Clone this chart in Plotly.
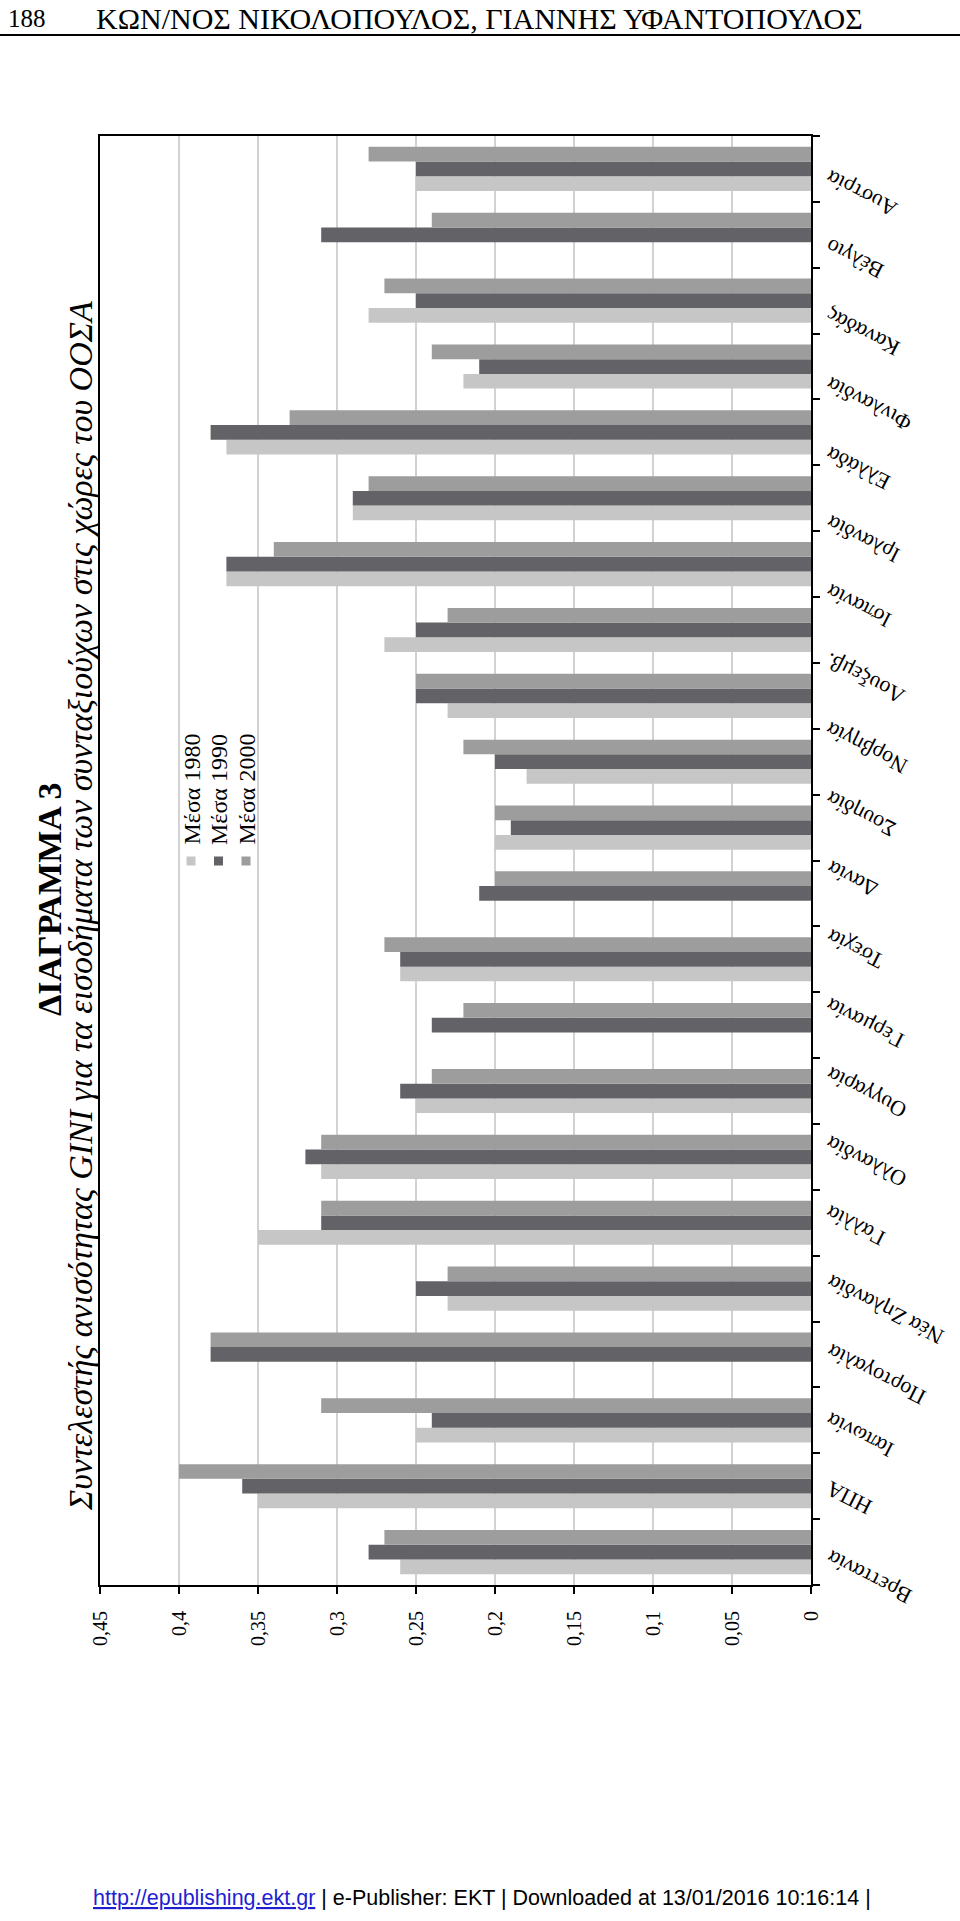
import plotly.graph_objects as go

# ---------------- data ----------------
# Country labels as printed on the page (bottom -> top of the rotated chart)
COUNTRY_LABELS = [
    "Βρεττανία", "ΗΠΑ", "Ιαπωνία", "Πορτογαλία", "Νέα Ζηλανδία", "Γαλλία",
    "Ολλανδία", "Ουγγαρία", "Γερμανία", "Τσεχία", "Δανία", "Σουηδία",
    "Νορβηγία", "Λουξεμβ.", "Ισπανία", "Ιρλανδία", "Ελλάδα", "Φινλανδία",
    "Καναδάς", "Βέλγιο", "Αυστρία",
]
# Bar groups as drawn in the scan (bottom -> top); the scan shows 22 groups
MEAN_1980 = [0.26, 0.35, 0.25, None, 0.23, 0.35, 0.31, 0.25, None, 0.26, None,
             0.20, 0.18, 0.23, 0.27, 0.37, 0.29, 0.37, 0.22, 0.28, None, 0.25]
MEAN_1990 = [0.28, 0.36, 0.24, 0.38, 0.25, 0.31, 0.32, 0.26, 0.24, 0.26, 0.21,
             0.19, 0.20, 0.25, 0.25, 0.37, 0.29, 0.38, 0.21, 0.25, 0.31, 0.25]
MEAN_2000 = [0.27, 0.40, 0.31, 0.38, 0.23, 0.31, 0.31, 0.24, 0.22, 0.27, 0.20,
             0.20, 0.22, 0.25, 0.23, 0.34, 0.28, 0.33, 0.24, 0.27, 0.24, 0.28]
SERIES_NAMES = ["Μέσα 1980", "Μέσα 1990", "Μέσα 2000"]
VALUE_TICKS = [0, 0.05, 0.1, 0.15, 0.2, 0.25, 0.3, 0.35, 0.4, 0.45]
VALUE_TICK_LABELS = ["0", "0,05", "0,1", "0,15", "0,2", "0,25", "0,3", "0,35", "0,4", "0,45"]

HEADER_PAGE = "188"
HEADER_TEXT = "ΚΩΝ/ΝΟΣ ΝΙΚΟΛΟΠΟΥΛΟΣ, ΓΙΑΝΝΗΣ ΥΦΑΝΤΟΠΟΥΛΟΣ"
TITLE = "ΔΙΑΓΡΑΜΜΑ 3"
SUBTITLE = "Συντελεστής ανισότητας GINI για τα εισοδήματα των συνταξιούχων στις χώρες του ΟΟΣΑ"
FOOTER_LINK = "http://epublishing.ekt.gr"
FOOTER_REST = " | e-Publisher: EKT | Downloaded at 13/01/2016 10:16:14 |"

# ---------------- styling / layout ----------------
COLORS = ["#c6c6c6", "#636367", "#9d9d9d"]
SERIF = "Liberation Serif"
SANS = "Liberation Sans"

W, H = 960, 1921
PL, PR, PT, PB = 100, 811, 136, 1585  # plot area in pixels


def px_x(x):
    return (x - PL) / (PR - PL)


def px_y(y):
    return (PB - y) / (PB - PT)


n_groups = len(MEAN_2000)
slots = list(range(n_groups))

fig = go.Figure()
for name, vals, col in zip(SERIES_NAMES, [MEAN_1980, MEAN_1990, MEAN_2000], COLORS):
    fig.add_trace(go.Bar(
        name=name, y=slots, x=vals, orientation="h",
        marker=dict(color=col, line=dict(width=0)),
        hoverinfo="skip",
    ))

annotations = []
# category labels (rotated, upside down as in the scanned page)
n_lab = len(COUNTRY_LABELS)
for i, lab in enumerate(COUNTRY_LABELS):
    annotations.append(dict(
        x=px_x(PR + 8), xref="paper", y=(i + 0.5) / n_lab, yref="paper",
        text=lab, textangle=-153, xanchor="left", yanchor="top", yshift=8,
        showarrow=False, font=dict(family=SERIF, size=22, color="black"),
    ))

# titles
annotations.append(dict(
    x=px_x(49), y=px_y(900), xref="paper", yref="paper", text="<b>" + TITLE + "</b>",
    textangle=-90, showarrow=False, xanchor="center", yanchor="middle",
    font=dict(family=SERIF, size=34, color="black"),
))
annotations.append(dict(
    x=px_x(81), y=px_y(906), xref="paper", yref="paper", text="<i>" + SUBTITLE + "</i>",
    textangle=-90, showarrow=False, xanchor="center", yanchor="middle",
    font=dict(family=SERIF, size=34, color="black"),
))

# legend (rotated)
shapes = []
for i, (name, col) in enumerate(zip(SERIES_NAMES, COLORS)):
    cx = 191 + 27.5 * i
    annotations.append(dict(
        x=px_x(cx), y=px_y(847), xref="paper", yref="paper", text=name,
        textangle=-90, showarrow=False, xanchor="center", yanchor="bottom",
        font=dict(family=SERIF, size=24, color="black"),
    ))
    shapes.append(dict(
        type="rect", xref="paper", yref="paper",
        x0=px_x(cx - 4.5), x1=px_x(cx + 4.5), y0=px_y(865.5), y1=px_y(856.5),
        fillcolor=col, line=dict(width=0),
    ))

# page header
annotations.append(dict(
    x=px_x(6), y=px_y(18), xref="paper", yref="paper", text=HEADER_PAGE,
    showarrow=False, xanchor="left", yanchor="middle",
    font=dict(family=SERIF, size=25, color="black"),
))
annotations.append(dict(
    x=px_x(94), y=px_y(18), xref="paper", yref="paper", text=HEADER_TEXT,
    showarrow=False, xanchor="left", yanchor="middle",
    font=dict(family=SERIF, size=30, color="black"),
))
shapes.append(dict(
    type="line", xref="paper", yref="paper",
    x0=px_x(0), x1=px_x(960), y0=px_y(35), y1=px_y(35),
    line=dict(color="black", width=2),
))

# footer
annotations.append(dict(
    x=px_x(482), y=px_y(1898), xref="paper", yref="paper",
    text='<span style="color:#1f1fd0"><u>' + FOOTER_LINK + '</u></span>' + FOOTER_REST,
    showarrow=False, xanchor="center", yanchor="middle",
    font=dict(family=SANS, size=21.5, color="black"),
))

fig.update_layout(
    width=W, height=H,
    margin=dict(l=PL, r=W - PR, t=PT, b=H - PB, pad=0),
    paper_bgcolor="white", plot_bgcolor="white",
    barmode="group", bargap=0.33, bargroupgap=0,
    showlegend=False,
    annotations=annotations, shapes=shapes,
    xaxis=dict(
        range=[0.45, 0], tickvals=VALUE_TICKS, ticktext=VALUE_TICK_LABELS,
        tickangle=-90, ticks="outside", ticklen=7, tickwidth=1.5, tickcolor="black",
        showline=True, linecolor="black", linewidth=2, mirror=True,
        showgrid=True, gridcolor="#d2d2d2", gridwidth=1.5, zeroline=False,
        tickfont=dict(family=SERIF, size=20, color="black"),
        ticklabelstandoff=9,
    ),
    yaxis=dict(
        type="linear", range=[-0.5, n_groups - 0.5],
        tickvals=[k - 0.5 for k in range(n_groups + 1)],
        side="right", showline=True, linecolor="black", linewidth=2, mirror=True,
        ticks="outside", ticklen=7, tickwidth=1.5, tickcolor="black",
        showticklabels=False, showgrid=False, zeroline=False,
    ),
)

fig.write_html(
    "out.html",
    config={"displayModeBar": False},
    post_script="document.body.style.margin='0px';document.body.style.overflow='hidden';",
)
